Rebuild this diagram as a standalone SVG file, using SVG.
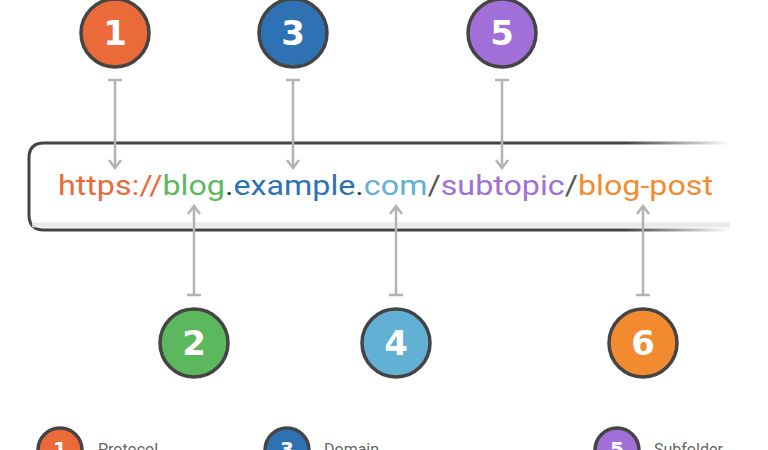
<svg xmlns="http://www.w3.org/2000/svg" width="768" height="450" viewBox="0 0 768 450">
<defs>
<style>
.n{stroke:#444;stroke-width:3.5}
.num{font-family:"DejaVu Sans",sans-serif;font-weight:bold;font-size:34px;fill:#fff;text-anchor:middle}
.sn{font-family:"DejaVu Sans",sans-serif;font-weight:bold;font-size:20px;fill:#fff;text-anchor:middle}
.c{stroke:#b3b3b3;stroke-width:2.5;fill:none}
.lg{font-family:Roboto,"Liberation Sans",sans-serif;font-size:16px;fill:#666}
</style>
<linearGradient id="fade" x1="0" x2="1" y1="0" y2="0">
<stop offset="0.85" stop-color="#444" stop-opacity="1"/>
<stop offset="1" stop-color="#444" stop-opacity="0"/>
</linearGradient>
<marker id="ah" viewBox="0 0 12 14" refX="10" refY="7" markerWidth="12" markerHeight="14" markerUnits="userSpaceOnUse" orient="auto">
<path d="M2,1 L10,7 L2,13" fill="none" stroke="#b3b3b3" stroke-width="2.5"/>
</marker>
</defs>
<rect width="768" height="450" fill="#fff"/>
<g id="urlbox">
<path d="M730,143 H44 Q29,143 29,158 V215 Q29,230 44,230 H730" fill="none" stroke="url(#fade)" stroke-width="3"/>
<path d="M32,225 H730" stroke="#e6e6e6" stroke-width="5" opacity="0.8"/>
<text x="58" y="195" font-family="Roboto,'Liberation Sans',sans-serif" font-size="28" textLength="655" lengthAdjust="spacingAndGlyphs"><tspan fill="#ea6a3a">https://</tspan><tspan fill="#5cb85c">blog</tspan><tspan fill="#333">.</tspan><tspan fill="#2f72b3">example</tspan><tspan fill="#333">.</tspan><tspan fill="#62b0d4">com</tspan><tspan fill="#555">/</tspan><tspan fill="#a070d8">subtopic</tspan><tspan fill="#555">/</tspan><tspan fill="#f28b30">blog-post</tspan></text>
</g>
<g id="connectors">
<path class="c" d="M108,80 H122 M115,80 V168" marker-end="url(#ah)"/>
<path class="c" d="M286,80 H300 M293,80 V168" marker-end="url(#ah)"/>
<path class="c" d="M495,80 H509 M502,80 V168" marker-end="url(#ah)"/>
<path class="c" d="M187,295 H201 M194,295 V206" marker-end="url(#ah)"/>
<path class="c" d="M389,295 H403 M396,295 V206" marker-end="url(#ah)"/>
<path class="c" d="M636,295 H650 M643,295 V206" marker-end="url(#ah)"/>
</g>
<g id="n1"><circle class="n" cx="115" cy="33" r="34" fill="#ea6a3a"/><text class="num" x="115" y="45">1</text></g>
<g id="n3"><circle class="n" cx="293" cy="33" r="34" fill="#2f72b3"/><text class="num" x="293" y="45">3</text></g>
<g id="n5"><circle class="n" cx="502" cy="33" r="34" fill="#a070d8"/><text class="num" x="502" y="45">5</text></g>
<g id="n2"><circle class="n" cx="194" cy="343" r="34" fill="#5cb85c"/><text class="num" x="194" y="355">2</text></g>
<g id="n4"><circle class="n" cx="396" cy="343" r="34" fill="#62b0d4"/><text class="num" x="396" y="355">4</text></g>
<g id="n6"><circle class="n" cx="643" cy="343" r="34" fill="#f28b30"/><text class="num" x="643" y="355">6</text></g>
<g id="legend1"><circle class="n" cx="60" cy="450" r="22" fill="#ea6a3a"/><text class="sn" x="60" y="456">1</text><text class="lg" x="98" y="455">Protocol</text></g>
<g id="legend3"><circle class="n" cx="287" cy="450" r="22" fill="#2f72b3"/><text class="sn" x="287" y="456">3</text><text class="lg" x="324" y="455">Domain</text></g>
<g id="legend5"><circle class="n" cx="617" cy="450" r="22" fill="#a070d8"/><text class="sn" x="617" y="456">5</text><text class="lg" x="654" y="455">Subfolder</text></g>
</svg>
